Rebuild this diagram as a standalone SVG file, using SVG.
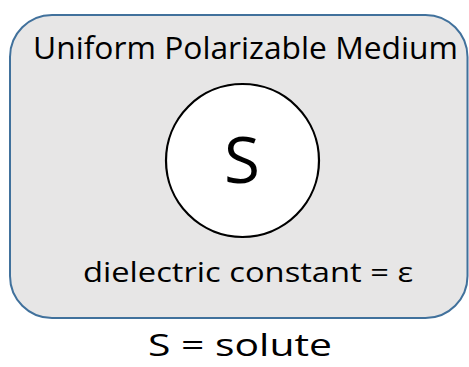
<svg xmlns="http://www.w3.org/2000/svg" width="469" height="367" viewBox="0 0 469 367">
<style>
text{font-family:"Open Sans","Liberation Sans",sans-serif;fill:#000}
.medium{fill:#e7e6e6;stroke:#41719c;stroke-width:2}
.solute{fill:#fff;stroke:#000;stroke-width:2.2}
</style>
<rect width="469" height="367" fill="#fff"/>
<g id="medium">
<rect class="medium" x="10" y="15" width="457.5" height="303" rx="42" ry="42"/>
<text x="33" y="59" font-size="31.5" textLength="425" lengthAdjust="spacingAndGlyphs">Uniform Polarizable Medium</text>
<text x="83" y="282" font-size="26.5" textLength="330" lengthAdjust="spacingAndGlyphs">dielectric constant = ε</text>
</g>
<g id="solute">
<circle class="solute" cx="242.5" cy="160.5" r="76.5"/>
<text x="242" y="183" font-size="64" text-anchor="middle" textLength="36" lengthAdjust="spacingAndGlyphs">S</text>
</g>
<g id="connectors"/>
<g id="caption">
<text x="148" y="356" font-size="31" textLength="184" lengthAdjust="spacingAndGlyphs">S = solute</text>
</g>
</svg>
